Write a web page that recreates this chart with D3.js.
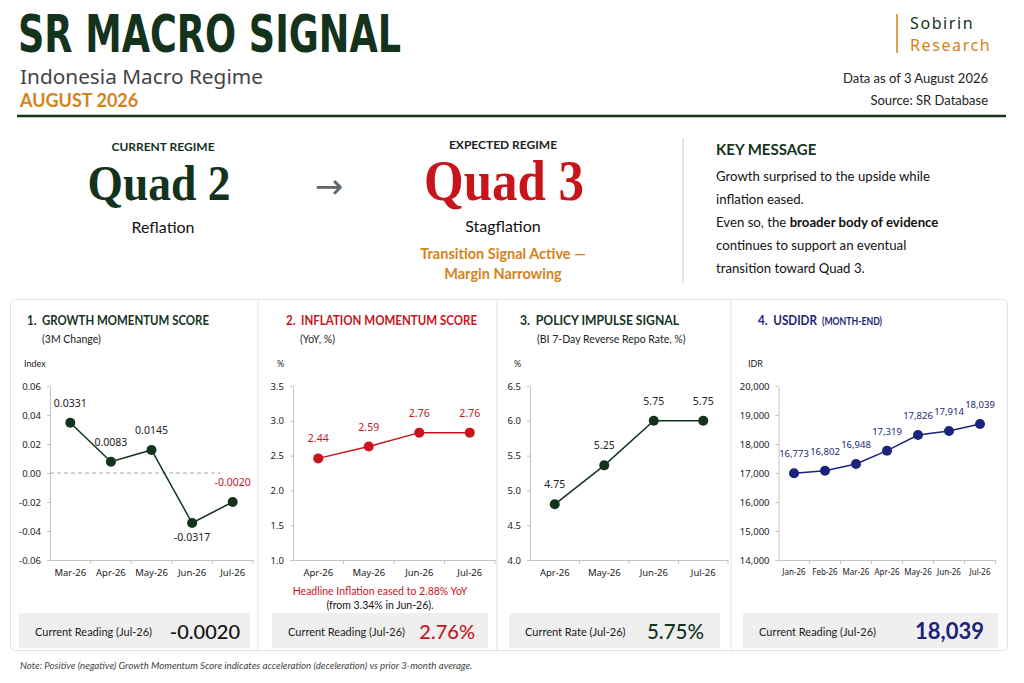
<!DOCTYPE html>
<html>
<head>
<meta charset="utf-8">
<script src="https://cdn.jsdelivr.net/npm/d3@7"></script>
<style>
  body { margin: 0; background: #fff; }
  svg { display: block; font-family: "Lato", "Noto Sans", sans-serif; }
  .ptitle { white-space: pre; }
</style>
</head>
<body>
<svg width="1024" height="683"></svg>
<script>
// ---- data ----
const growthMonths = ["Mar-26", "Apr-26", "May-26", "Jun-26", "Jul-26"];
const growthValues = [0.0347, 0.0078, 0.0159, -0.0345, -0.0200];
const growthLabels = ["0.0331", "0.0083", "0.0145", "-0.0317", "-0.0020"];
const growthTicks = [0.06, 0.04, 0.02, 0.00, -0.02, -0.04, -0.06];

const inflMonths = ["Apr-26", "May-26", "Jun-26", "Jul-26"];
const inflValues = [2.46, 2.63, 2.83, 2.83];
const inflLabels = ["2.44", "2.59", "2.76", "2.76"];
const inflTicks = [3.5, 3.0, 2.5, 2.0, 1.5, 1.0];

const policyMonths = ["Apr-26", "May-26", "Jun-26", "Jul-26"];
const policyValues = [4.80, 5.36, 6.0, 6.0];
const policyLabels = ["4.75", "5.25", "5.75", "5.75"];
const policyTicks = [6.5, 6.0, 5.5, 5.0, 4.5, 4.0];

const fxMonths = ["Jan-26", "Feb-26", "Mar-26", "Apr-26", "May-26", "Jun-26", "Jul-26"];
const fxValues = [16990, 17080, 17310, 17770, 18310, 18450, 18690];
const fxLabels = ["16,773", "16,802", "16,948", "17,319", "17,826", "17,914", "18,039"];
const fxTicks = [20000, 19000, 18000, 17000, 16000, 15000, 14000];

const keyLines = [
  [["Growth surprised to the upside while", false]],
  [["inflation eased.", false]],
  [["Even so, the ", false], ["broader body of evidence", true]],
  [["continues to support an eventual", false]],
  [["transition toward Quad 3.", false]]
];

const GREEN = "#14331d", RED = "#c8141b", ORANGE = "#d6821c", NAVY = "#1b2478";
const loc = d3.formatLocale({decimal: ".", thousands: ",", grouping: [3], currency: ["", ""], minus: "-"});

const svg = d3.select("svg");

// ---- header ----
svg.append("text").attr("x", 18).attr("y", 52)
  .attr("font-family", "'Liberation Sans Narrow', 'DejaVu Sans Condensed', 'Roboto', sans-serif")
  .attr("font-weight", 700).attr("font-size", 52).attr("fill", GREEN)
  .attr("textLength", 383).attr("lengthAdjust", "spacingAndGlyphs")
  .text("SR MACRO SIGNAL");
svg.append("text").attr("x", 20).attr("y", 84).attr("font-size", 20.8).attr("fill", "#444")
  .attr("font-family", "'Noto Sans', sans-serif").text("Indonesia Macro Regime");
svg.append("text").attr("x", 20).attr("y", 107).attr("font-size", 18).attr("font-weight", 700)
  .attr("fill", ORANGE).text("AUGUST 2026");

svg.append("line").attr("x1", 897).attr("x2", 897).attr("y1", 14).attr("y2", 53)
  .attr("stroke", ORANGE).attr("stroke-width", 1.5);
svg.append("text").attr("x", 910).attr("y", 29).attr("font-size", 16).attr("fill", GREEN)
  .attr("letter-spacing", 1.6).attr("font-family", "'Noto Sans', sans-serif").text("Sobirin");
svg.append("text").attr("x", 910).attr("y", 51).attr("font-size", 16).attr("fill", ORANGE)
  .attr("letter-spacing", 1.6).attr("font-family", "'Noto Sans', sans-serif").text("Research");

svg.append("text").attr("x", 988).attr("y", 83).attr("text-anchor", "end").attr("font-size", 13)
  .attr("fill", "#222").text("Data as of 3 August 2026");
svg.append("text").attr("x", 988).attr("y", 105).attr("text-anchor", "end").attr("font-size", 13)
  .attr("fill", "#222").text("Source: SR Database");

svg.append("line").attr("x1", 17).attr("x2", 1006).attr("y1", 116).attr("y2", 116)
  .attr("stroke", GREEN).attr("stroke-width", 2.5);

// ---- regime block ----
const serif = "'Liberation Serif', 'DejaVu Serif', serif";
svg.append("text").attr("x", 163).attr("y", 151).attr("text-anchor", "middle").attr("font-size", 12)
  .attr("font-weight", 700).attr("fill", GREEN).text("CURRENT REGIME");
svg.append("text").attr("x", 159).attr("y", 200).attr("text-anchor", "middle").attr("font-size", 50)
  .attr("font-family", serif).attr("font-weight", 700).attr("fill", GREEN)
  .attr("textLength", 143).attr("lengthAdjust", "spacingAndGlyphs").text("Quad 2");
svg.append("text").attr("x", 163).attr("y", 233).attr("text-anchor", "middle").attr("font-size", 16)
  .attr("fill", "#111").text("Reflation");

svg.append("text").attr("x", 329).attr("y", 198).attr("text-anchor", "middle").attr("font-size", 34)
  .attr("fill", "#666").attr("font-family", "'DejaVu Sans', sans-serif").text("→");

svg.append("text").attr("x", 503).attr("y", 149).attr("text-anchor", "middle").attr("font-size", 12)
  .attr("font-weight", 700).attr("fill", "#222").text("EXPECTED REGIME");
svg.append("text").attr("x", 504).attr("y", 200).attr("text-anchor", "middle").attr("font-size", 56)
  .attr("font-family", serif).attr("font-weight", 700).attr("fill", RED)
  .attr("textLength", 160).attr("lengthAdjust", "spacingAndGlyphs").text("Quad 3");
svg.append("text").attr("x", 503).attr("y", 232).attr("text-anchor", "middle").attr("font-size", 16)
  .attr("fill", "#111").text("Stagflation");
svg.append("text").attr("x", 503).attr("y", 259).attr("text-anchor", "middle").attr("font-size", 14.5)
  .attr("font-weight", 700).attr("fill", ORANGE).text("Transition Signal Active —");
svg.append("text").attr("x", 503).attr("y", 279).attr("text-anchor", "middle").attr("font-size", 14.5)
  .attr("font-weight", 700).attr("fill", ORANGE).text("Margin Narrowing");

svg.append("line").attr("x1", 683).attr("x2", 683).attr("y1", 138).attr("y2", 283)
  .attr("stroke", "#cfcfcf");

svg.append("text").attr("x", 716).attr("y", 155).attr("font-size", 15).attr("font-weight", 700)
  .attr("fill", GREEN).text("KEY MESSAGE");
keyLines.forEach((parts, i) => {
  const t = svg.append("text").attr("x", 716).attr("y", 181 + i * 23).attr("font-size", 13.2).attr("fill", "#111");
  parts.forEach(([s, b]) => t.append("tspan").attr("font-weight", b ? 700 : 400).text(s));
});

// ---- panels frame ----
svg.append("rect").attr("x", 10.5).attr("y", 299.5).attr("width", 997).attr("height", 351)
  .attr("rx", 5).attr("fill", "none").attr("stroke", "#e2e2e2");
[258, 497, 731].forEach(x => svg.append("line").attr("x1", x).attr("x2", x)
  .attr("y1", 300).attr("y2", 650).attr("stroke", "#e2e2e2"));

function panel(cfg) {
  const g = svg.append("g");
  const y = d3.scaleLinear().domain(d3.extent(cfg.ticks)).range([560, 386]);
  const x = d3.scaleBand().domain(cfg.months).range(cfg.xr);

  // title
  g.append("text").attr("class", "ptitle").attr("x", cfg.tx).attr("y", 325).attr("font-size", 14)
    .attr("font-weight", 700).attr("fill", cfg.titleColor)
    .attr("textLength", cfg.tw).attr("lengthAdjust", "spacingAndGlyphs").text(cfg.title);
  if (cfg.titleSmall) g.append("text").attr("x", cfg.tx + cfg.tw + 5).attr("y", 325).attr("font-size", 10.5)
    .attr("font-weight", 700).attr("fill", cfg.titleColor)
    .attr("textLength", 60).attr("lengthAdjust", "spacingAndGlyphs").text(cfg.titleSmall);
  if (cfg.sub) g.append("text").attr("x", cfg.sx).attr("y", 343).attr("font-size", 10.5)
    .attr("fill", "#222").text(cfg.sub);
  g.append("text").attr("x", cfg.ux).attr("y", 367).attr("font-size", 9).attr("fill", "#222").text(cfg.unit);

  // y axis
  const ya = g.append("g").attr("transform", `translate(${cfg.xr[0]},0)`)
    .call(d3.axisLeft(y).tickValues(cfg.ticks).tickFormat(cfg.fmt).tickSize(3).tickSizeOuter(0).tickPadding(6));
  // x axis
  const xa = g.append("g").attr("transform", "translate(0,560)")
    .call(d3.axisBottom(x).tickSize(0).tickPadding(9));
  [ya, xa].forEach(a => {
    a.select(".domain").attr("stroke", "#c4c4c4");
    a.selectAll(".tick line").attr("stroke", "#c4c4c4");
    a.selectAll("text").attr("font-size", 9.5).attr("fill", "#222").attr("font-family", "'Noto Sans', sans-serif");
  });
  if (cfg.xTickSize) xa.selectAll("text").attr("font-size", cfg.xTickSize);
  g.append("g").selectAll("line").data(cfg.months.slice(1).concat([null])).join("line")
    .attr("x1", d => d ? x(d) : x.range()[1]).attr("x2", d => d ? x(d) : x.range()[1])
    .attr("y1", 560).attr("y2", 564).attr("stroke", "#c4c4c4");

  if (cfg.zeroLine) g.append("line").attr("x1", cfg.xr[0]).attr("x2", x("Jul-26") + x.bandwidth() * 0.2)
    .attr("y1", y(0)).attr("y2", y(0)).attr("stroke", "#aaa").attr("stroke-dasharray", "4,3");

  const pts = cfg.months.map((m, i) => ({m, v: cfg.values[i], l: cfg.labels[i], i}));
  const cx = d => x(d.m) + x.bandwidth() / 2;
  g.append("path").datum(pts).attr("fill", "none").attr("stroke", cfg.color).attr("stroke-width", 1.5)
    .attr("d", d3.line().x(cx).y(d => y(d.v)));
  g.selectAll("circle").data(pts).join("circle")
    .attr("cx", cx).attr("cy", d => y(d.v)).attr("r", cfg.r).attr("fill", cfg.color);
  g.selectAll(".lbl").data(pts).join("text").attr("class", "lbl")
    .attr("x", cx).attr("y", d => y(d.v) + (cfg.below.includes(d.i) ? 18 : -16))
    .attr("text-anchor", "middle").attr("font-size", cfg.lblSize).attr("font-family", "'Noto Sans', sans-serif")
    .attr("fill", d => d.i === cfg.redIdx ? RED : cfg.lblColor).text(d => d.l);

  // current reading box
  g.append("rect").attr("x", cfg.box[0]).attr("y", 613).attr("width", cfg.box[1] - cfg.box[0]).attr("height", 35)
    .attr("fill", "#efefef");
  g.append("text").attr("x", cfg.box[0] + 16).attr("y", 636).attr("font-size", 11).attr("fill", "#222")
    .text(cfg.readLabel);
  g.append("text").attr("x", cfg.box[1] - cfg.readPad).attr("y", 639).attr("text-anchor", "end").attr("font-size", cfg.readSize)
    .attr("font-weight", cfg.readWeight).attr("fill", cfg.readColor).text(cfg.readValue);
  return g;
}

panel({
  title: "1.  GROWTH MOMENTUM SCORE", tw: 182, tx: 27, titleColor: GREEN, sub: "(3M Change)", sx: 42,
  unit: "Index", ux: 24, months: growthMonths, values: growthValues, labels: growthLabels, ticks: growthTicks,
  fmt: loc.format(".2f"), xr: [50, 253], color: GREEN, r: 5, lblColor: "#222", lblSize: 10.5,
  below: [3], redIdx: 4, zeroLine: true,
  box: [19, 250], readLabel: "Current Reading (Jul-26)", readValue: growthLabels[4], readColor: "#111",
  readWeight: 500, readSize: 20, readPad: 10
});

const p2 = panel({
  title: "2.  INFLATION MOMENTUM SCORE", tw: 191, tx: 286, titleColor: RED, sub: "(YoY, %)", sx: 300,
  unit: "%", ux: 277, months: inflMonths, values: inflValues, labels: inflLabels, ticks: inflTicks,
  fmt: loc.format(".1f"), xr: [293, 495], color: RED, r: 5, lblColor: RED, lblSize: 10.5,
  below: [], redIdx: -1,
  box: [272, 488], readLabel: "Current Reading (Jul-26)", readValue: inflLabels[3] + "%", readColor: RED,
  readWeight: 500, readSize: 20, readPad: 13
});
p2.append("text").attr("x", 380).attr("y", 595).attr("text-anchor", "middle").attr("font-size", 10.5)
  .attr("fill", RED).text("Headline Inflation eased to 2.88% YoY");
p2.append("text").attr("x", 380).attr("y", 609).attr("text-anchor", "middle").attr("font-size", 10.5)
  .attr("fill", "#111").text("(from 3.34% in Jun-26).");

panel({
  title: "3.  POLICY IMPULSE SIGNAL", tw: 159, tx: 520, titleColor: GREEN, sub: "(BI 7-Day Reverse Repo Rate, %)", sx: 537,
  unit: "%", ux: 514, months: policyMonths, values: policyValues, labels: policyLabels, ticks: policyTicks,
  fmt: loc.format(".1f"), xr: [530, 728], color: GREEN, r: 5, lblColor: "#222", lblSize: 10.5,
  below: [], redIdx: -1,
  box: [509, 720], readLabel: "Current Rate (Jul-26)", readValue: policyLabels[3] + "%", readColor: GREEN,
  readWeight: 500, readSize: 20.5, readPad: 16
});

panel({
  title: "4.  USDIDR", titleSmall: "(MONTH-END)", tw: 59, tx: 758, titleColor: NAVY,
  unit: "IDR", ux: 748, months: fxMonths, values: fxValues, labels: fxLabels, ticks: fxTicks,
  fmt: loc.format(",.0f"), xr: [778.5, 995.5], color: NAVY, r: 5, lblColor: NAVY, lblSize: 9.5, xTickSize: 8,
  below: [], redIdx: -1,
  box: [743, 998], readLabel: "Current Reading (Jul-26)", readValue: fxLabels[6], readColor: NAVY,
  readWeight: 700, readSize: 22, readPad: 14
});

// ---- footnote ----
svg.append("text").attr("x", 20).attr("y", 669).attr("font-size", 9.7).attr("font-style", "italic")
  .attr("fill", "#444")
  .text("Note: Positive (negative) Growth Momentum Score indicates acceleration (deceleration) vs prior 3-month average.");
</script>
</body>
</html>
